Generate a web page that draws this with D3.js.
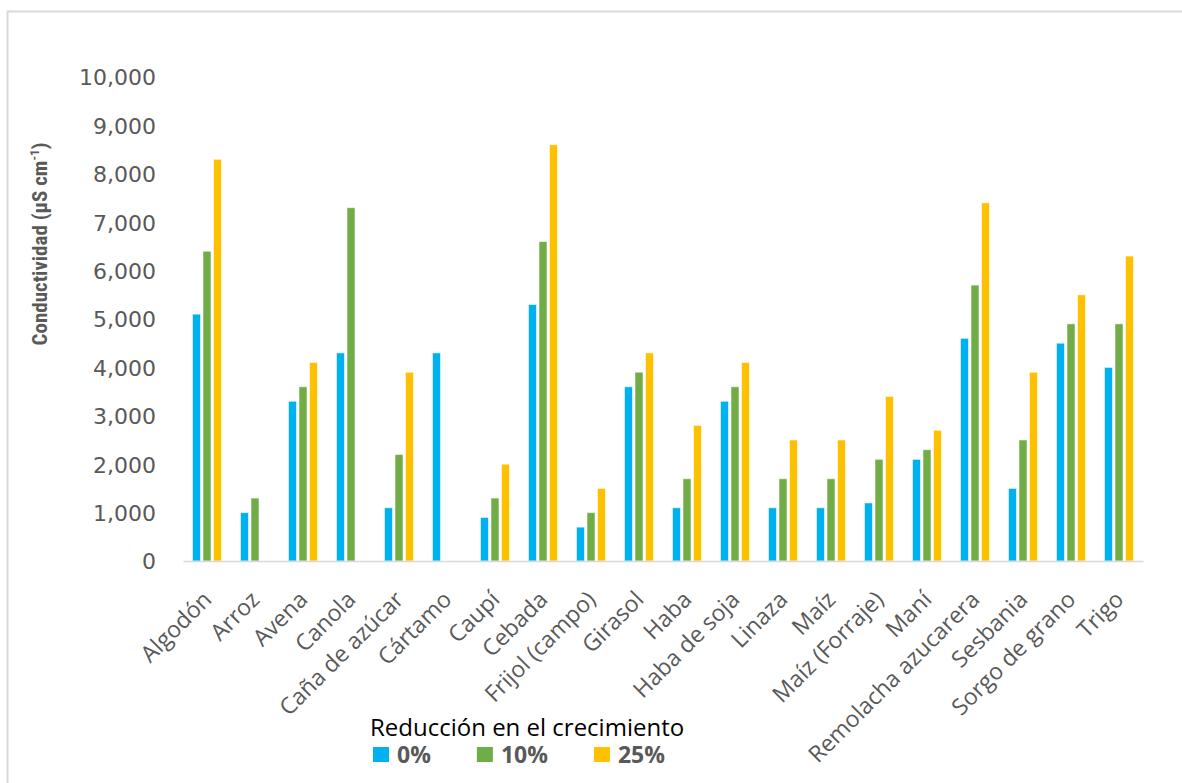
<!DOCTYPE html>
<html>
<head>
<meta charset="utf-8">
<script src="https://cdn.jsdelivr.net/npm/d3@7"></script>
<style>
  html, body { margin: 0; padding: 0; background: #ffffff; }
  svg { display: block; }
</style>
</head>
<body>
<svg id="chart" width="1182" height="783"></svg>
<script>
// Cultivos y umbrales de conductividad (µS cm-1) según reducción del crecimiento
const categories = [
  "Algodón", "Arroz", "Avena", "Canola", "Caña de azúcar", "Cártamo", "Caupí",
  "Cebada", "Frijol (campo)", "Girasol", "Haba", "Haba de soja", "Linaza", "Maíz",
  "Maíz (Forraje)", "Maní", "Remolacha azucarera", "Sesbania", "Sorgo de grano", "Trigo"
];
const seriesNames = ["0%", "10%", "25%"];
const seriesColors = ["#00B0F0", "#70AD47", "#FFC000"];
const values0 = [5100, 1000, 3300, 4300, 1100, 4300, 900, 5300, 700, 3600, 1100, 3300, 1100, 1100, 1200, 2100, 4600, 1500, 4500, 4000];
const values10 = [6400, 1300, 3600, 7300, 2200, null, 1300, 6600, 1000, 3900, 1700, 3600, 1700, 1700, 2100, 2300, 5700, 2500, 4900, 4900];
const values25 = [8300, null, 4100, null, 3900, null, 2000, 8600, 1500, 4300, 2800, 4100, 2500, 2500, 3400, 2700, 7400, 3900, 5500, 6300];
const yTicks = [0, 1000, 2000, 3000, 4000, 5000, 6000, 7000, 8000, 9000, 10000];
const yTitle = "Conductividad (µS cm";
const legendTitle = "Reducción en el crecimiento";

const svg = d3.select("#chart");

// Marco exterior
svg.append("rect")
  .attr("x", 7.5).attr("y", 11.5)
  .attr("width", 1200).attr("height", 800)
  .attr("fill", "#ffffff")
  .attr("stroke", "#d9d9d9")
  .attr("stroke-width", 2);

const plot = { left: 183, right: 1143, top: 77, bottom: 561 };

const x0 = d3.scaleBand().domain(categories).range([plot.left, plot.right]).padding(0);
const x1 = d3.scaleBand().domain(seriesNames).range([0, x0.bandwidth()])
  .paddingInner(0.238).paddingOuter(0.905);
const y = d3.scaleLinear().domain([0, 10000]).range([plot.bottom, plot.top]);

const seriesValues = [values0, values10, values25];

// Barras agrupadas
const groups = svg.append("g").selectAll("g")
  .data(categories)
  .join("g")
  .attr("transform", d => `translate(${x0(d)},0)`);

groups.selectAll("rect")
  .data((d, i) => seriesNames.map((s, k) => ({ s, k, v: seriesValues[k][i] })).filter(e => e.v != null))
  .join("rect")
  .attr("x", e => x1(e.s))
  .attr("width", x1.bandwidth())
  .attr("y", e => y(e.v))
  .attr("height", e => y(0) - y(e.v))
  .attr("fill", e => seriesColors[e.k])
  .attr("stroke", "rgba(255,255,255,0.55)")
  .attr("stroke-width", 1);

// Eje Y
const yAxis = d3.axisLeft(y).tickValues(yTicks).tickSize(0).tickPadding(0)
  .tickFormat(d3.format(","));
const yg = svg.append("g").attr("transform", `translate(${plot.left - 27},0)`).call(yAxis);
yg.select(".domain").remove();
yg.selectAll("text")
  .attr("fill", "#595959")
  .attr("font-family", "'DejaVu Sans', sans-serif")
  .attr("font-size", 22)
  .attr("dy", "0.36em");

// Eje X
const xAxis = d3.axisBottom(x0).tickSize(0).tickPadding(0);
const xg = svg.append("g").attr("transform", `translate(0,${plot.bottom})`).call(xAxis);
xg.select(".domain").attr("stroke", "#d9d9d9").attr("stroke-width", 1.5);
xg.selectAll("text")
  .attr("fill", "#595959")
  .attr("font-family", "'Open Sans', sans-serif")
  .attr("font-size", 23)
  .attr("text-anchor", "end")
  .attr("dy", 0)
  .attr("y", 0)
  .attr("transform", "translate(6,40) rotate(-45)");

// Título del eje Y
const yt = svg.append("text")
  .attr("transform", "translate(47,244) rotate(-90)")
  .attr("text-anchor", "middle")
  .attr("fill", "#595959")
  .attr("font-family", "'Liberation Sans Narrow', 'Roboto Condensed', 'Open Sans', sans-serif")
  .attr("font-weight", "bold")
  .attr("font-size", 21);
yt.append("tspan").text(yTitle);
yt.append("tspan").text("-1").attr("font-size", 13).attr("dy", -8);
yt.append("tspan").text(")").attr("dy", 8);

// Leyenda
const legend = svg.append("g").attr("transform", "translate(370,0)");
legend.append("text")
  .attr("x", 0).attr("y", 736)
  .attr("fill", "#000000")
  .attr("font-family", "'Open Sans', sans-serif")
  .attr("font-size", 24)
  .text(legendTitle);

let lx = 3;
seriesNames.forEach((name, k) => {
  const item = legend.append("g").attr("transform", `translate(${lx},0)`);
  item.append("rect")
    .attr("x", 0).attr("y", 747)
    .attr("width", 16).attr("height", 15)
    .attr("fill", seriesColors[k]);
  const t = item.append("text")
    .attr("x", 24).attr("y", 763)
    .attr("fill", "#595959")
    .attr("font-family", "'Open Sans', sans-serif")
    .attr("font-weight", "bold")
    .attr("font-size", 23)
    .text(name);
  lx += 24 + t.node().getComputedTextLength() + 46;
});
</script>
</body>
</html>
